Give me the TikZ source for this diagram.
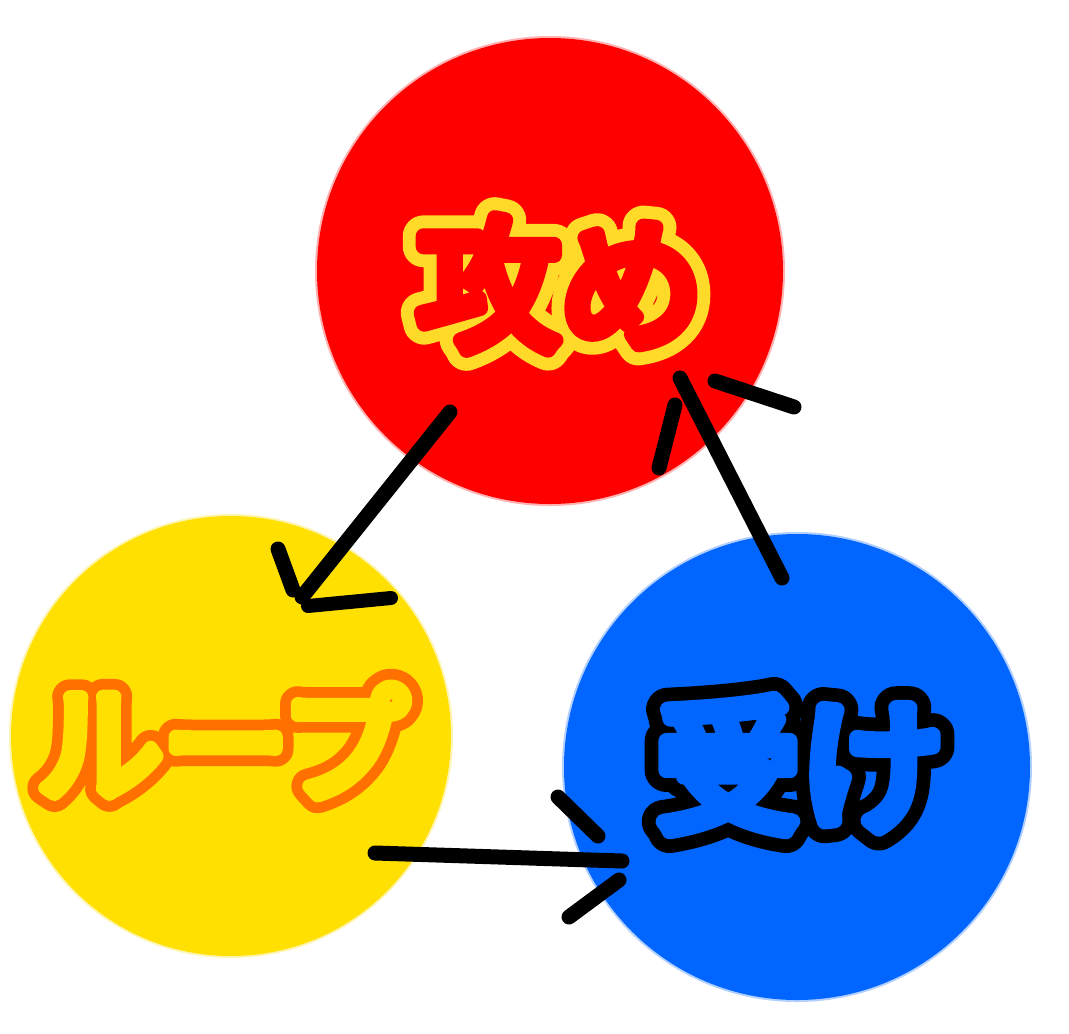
\documentclass[tikz,border=0pt]{standalone}
\usepackage{fontspec}
\newfontfamily\cjk{Noto Sans CJK JP}
\usetikzlibrary{calc}
\definecolor{cred}{RGB}{255,0,0}
\definecolor{cyel}{RGB}{255,224,0}
\definecolor{cblu}{RGB}{0,102,255}
\definecolor{tyel}{RGB}{255,218,40}
\definecolor{torg}{RGB}{255,112,0}
\tikzset{
  disc/.style={circle, inner sep=0pt, minimum size=#1},
  hand/.style={line width=15pt, line cap=round, black},
  lbl/.style={inner sep=0pt, anchor=center, line join=round},
}
% name, pos, text, fill colour, outline colour, size, fill bold, outline bold
\newcommand\outlinetext[8]{%
  \node[lbl, text=#5, font=\cjk\addfontfeature{FakeBold=#8}\fontsize{#6}{#6}\selectfont] (#1o) at (#2) {#3};
  \node[lbl, text=#4, font=\cjk\addfontfeature{FakeBold=#7}\fontsize{#6}{#6}\selectfont] (#1) at (#2) {#3};
}
\begin{document}
\begin{tikzpicture}[x=1pt,y=-1pt]
\useasboundingbox[fill=white] (0,0) rectangle (1069,1034);
\node[disc=470pt, fill=cred, opacity=0.3] at (550,271) {};
\node[disc=466pt, fill=cred] (red) at (550,271) {};
\node[disc=444pt, fill=cyel, opacity=0.3] at (231,736) {};
\node[disc=440pt, fill=cyel] (yel) at (231,736) {};
\node[disc=470pt, fill=cblu, opacity=0.3] at (797,767) {};
\node[disc=466pt, fill=cblu] (blu) at (797,767) {};
\coordinate (tA) at (560,284);
\coordinate (tL) at (222,741);
\coordinate (tU) at (800,765);
\begin{scope}[line join=round]
\outlinetext{atk}{tA}{攻め}{cred}{tyel}{143}{11}{29}
\outlinetext{loop}{tL}{ループ}{cyel}{torg}{126}{11}{28}
\outlinetext{uke}{tU}{受け}{cblu}{black}{144}{11}{30}
\end{scope}
\coordinate (a1s) at (450,412);
\coordinate (a1e) at (302,597);
\coordinate (a1l1) at (278,549);
\coordinate (a1l2) at (293,590);
\coordinate (a1r1) at (308,606);
\coordinate (a1r2) at (391,598);
\draw[hand] (a1s) -- (a1e);
\draw[hand] (a1l1) -- (a1l2);
\draw[hand, line width=14pt] (a1r1) -- (a1r2);
\coordinate (a2s) at (375,853);
\coordinate (a2e) at (622,861);
\coordinate (a2u1) at (558,797);
\coordinate (a2u2) at (598,836);
\coordinate (a2d1) at (619,880);
\coordinate (a2d2) at (569,917);
\draw[hand] (a2s) -- (a2e);
\draw[hand] (a2u1) -- (a2u2);
\draw[hand] (a2d1) -- (a2d2);
\coordinate (a3s) at (782,578);
\coordinate (a3e) at (680,378);
\coordinate (a3l1) at (675,405);
\coordinate (a3l2) at (659,468);
\coordinate (a3r1) at (715,381);
\coordinate (a3r2) at (794,407);
\draw[hand] (a3s) -- (a3e);
\draw[hand] (a3l1) -- (a3l2);
\draw[hand] (a3r1) -- (a3r2);
\end{tikzpicture}
\end{document}
